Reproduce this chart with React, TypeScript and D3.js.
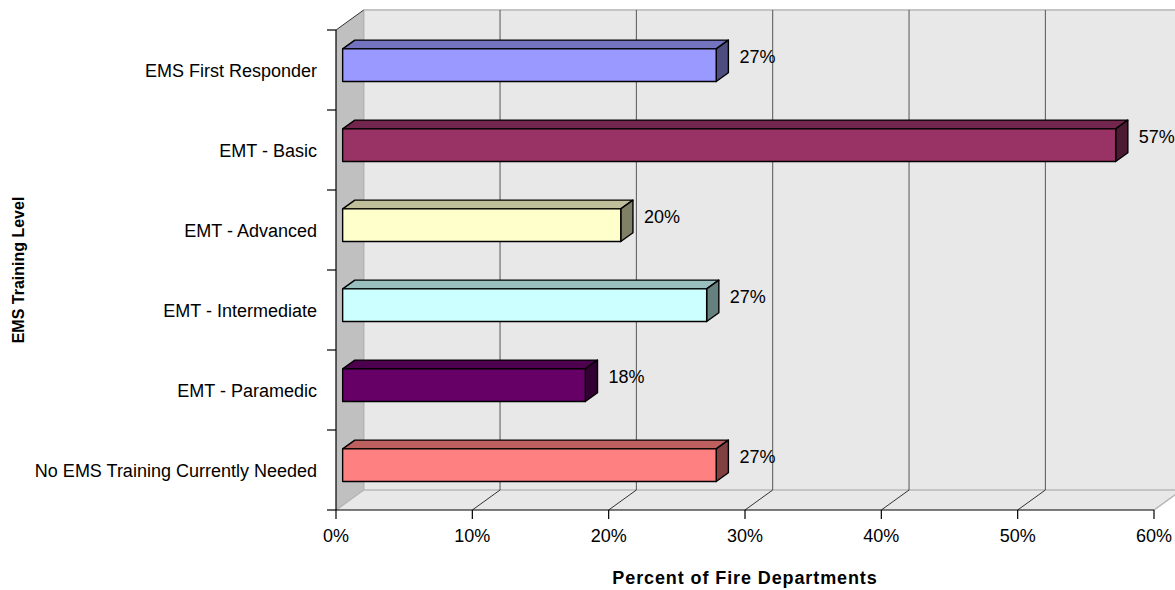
import React from "react";
import * as d3 from "d3";

const categories = [
  "EMS First Responder",
  "EMT - Basic",
  "EMT - Advanced",
  "EMT - Intermediate",
  "EMT - Paramedic",
  "No EMS Training Currently Needed",
];
const values = [27.4, 56.7, 20.4, 26.7, 17.8, 27.4];
const valueLabels = ["27%", "57%", "20%", "27%", "18%", "27%"];
const xTicks = [0, 10, 20, 30, 40, 50, 60];
const frontColors = ["#9999FF", "#993366", "#FFFFCC", "#CCFFFF", "#660066", "#FF8080"];
const topColors = ["#7373BF", "#73264D", "#BFBF99", "#99BFBF", "#4D004D", "#BF6060"];
const sideColors = ["#4D4D80", "#4D1A33", "#808066", "#668080", "#330033", "#804040"];

const W = 1175;
const H = 590;
const X0 = 336;
const X1 = 1154;
const Y0 = 30;
const Y1 = 510;
const DX = 27.7;
const DY = -20;
const D0 = 0.24;
const D1 = 0.68;
const FONT = "'Liberation Sans', Arial, sans-serif";

export default function App() {
  const x = d3.scaleLinear().domain([0, 60]).range([X0, X1]);
  const y = d3.scaleBand<string>().domain(categories).range([Y0, Y1]);
  const band = y.bandwidth();
  const halfH = 16.3;

  const pts = (arr: [number, number][]) => arr.map((p) => p.join(",")).join(" ");

  const bxL = x(0) + DX * D0;
  const bdx = DX * (D1 - D0);
  const bdy = DY * (D1 - D0);

  return (
    <svg
      width={W}
      height={H}
      style={{ position: "absolute", left: 0, top: 0, background: "#fff" }}
      fontFamily={FONT}
    >
      {/* left wall */}
      <polygon
        points={pts([
          [X0, Y0],
          [X0 + DX, Y0 + DY],
          [X0 + DX, Y1 + DY],
          [X0, Y1],
        ])}
        fill="#C0C0C0"
      />
      {/* back wall */}
      <rect x={X0 + DX} y={Y0 + DY} width={X1 - X0 + 2} height={Y1 - Y0} fill="#E8E8E8" />
      {/* floor */}
      <polygon
        points={pts([
          [X0, Y1],
          [X1, Y1],
          [X1 + DX, Y1 + DY],
          [X0 + DX, Y1 + DY],
        ])}
        fill="#E8E8E8"
      />
      {/* wall edges */}
      <line x1={X0 + DX} y1={Y0 + DY} x2={X1 + DX + 2} y2={Y0 + DY} stroke="#C4C4C4" strokeWidth={2} />
      <line x1={X0 + DX} y1={Y1 + DY} x2={X1 + DX + 2} y2={Y1 + DY} stroke="#C4C4C4" strokeWidth={2} />
      <line x1={X0 + DX} y1={Y0 + DY} x2={X0 + DX} y2={Y1 + DY} stroke="#B4B4B4" strokeWidth={1.5} />
      <line x1={X0} y1={Y1} x2={X0 + DX} y2={Y1 + DY} stroke="#B4B4B4" strokeWidth={1.5} />
      <line x1={X1} y1={Y1} x2={X1 + DX} y2={Y1 + DY} stroke="#B4B4B4" strokeWidth={1.5} />
      <line x1={X0} y1={Y0} x2={X0 + DX} y2={Y0 + DY} stroke="#333" strokeWidth={1} />
      {/* gridlines */}
      {xTicks.slice(1, -1).map((t) => (
        <g key={t}>
          <line x1={x(t) + DX} y1={Y0 + DY} x2={x(t) + DX} y2={Y1 + DY} stroke="#555" strokeWidth={1} />
          <line x1={x(t)} y1={Y1} x2={x(t) + DX} y2={Y1 + DY} stroke="#333" strokeWidth={1} />
        </g>
      ))}
      {/* bars */}
      {categories.map((c, i) => {
        const cy = (y(c) as number) + band / 2 + DY * D0;
        const top = cy - halfH;
        const bot = cy + halfH;
        const xr = x(values[i]) + DX * D0;
        return (
          <g key={c} stroke="#000" strokeWidth={1.4} strokeLinejoin="round">
            <polygon
              points={pts([
                [bxL, top],
                [bxL + bdx, top + bdy],
                [xr + bdx, top + bdy],
                [xr, top],
              ])}
              fill={topColors[i]}
            />
            <polygon
              points={pts([
                [xr, top],
                [xr + bdx, top + bdy],
                [xr + bdx, bot + bdy],
                [xr, bot],
              ])}
              fill={sideColors[i]}
            />
            <rect x={bxL} y={top} width={xr - bxL} height={bot - top} fill={frontColors[i]} />
          </g>
        );
      })}
      {/* value labels */}
      {categories.map((c, i) => (
        <text
          key={c}
          x={x(values[i]) + DX * D1 + 11}
          y={(y(c) as number) + band / 2 + DY * D1 + 6.5}
          fontSize={18}
          fill="#000"
        >
          {valueLabels[i]}
        </text>
      ))}
      {/* axes */}
      <line x1={X0} y1={Y0} x2={X0} y2={Y1} stroke="#000" strokeWidth={1.2} />
      <line x1={X0} y1={Y1} x2={X1} y2={Y1} stroke="#000" strokeWidth={1.2} />
      {d3.range(categories.length + 1).map((k) => {
        const yy = Y0 + k * band;
        return <line key={k} x1={X0 - 9} y1={yy} x2={X0} y2={yy} stroke="#000" strokeWidth={1.2} />;
      })}
      {xTicks.map((t) => (
        <g key={t}>
          <line x1={x(t)} y1={Y1} x2={x(t)} y2={Y1 + 9} stroke="#000" strokeWidth={1.2} />
          <text x={x(t)} y={542} textAnchor="middle" fontSize={18} fill="#000">
            {t + "%"}
          </text>
        </g>
      ))}
      {categories.map((c) => (
        <text
          key={c}
          x={317}
          y={(y(c) as number) + band / 2 + 6.5}
          textAnchor="end"
          fontSize={18}
          fill="#000"
        >
          {c}
        </text>
      ))}
      {/* axis titles */}
      <text
        x={745}
        y={584}
        textAnchor="middle"
        fontSize={18}
        fontWeight="bold"
        letterSpacing={0.9}
        fill="#000"
      >
        Percent of Fire Departments
      </text>
      <text
        transform={`translate(24,270) rotate(-90)`}
        textAnchor="middle"
        fontSize={16}
        fontWeight="bold"
        fill="#000"
      >
        EMS Training Level
      </text>
    </svg>
  );
}
